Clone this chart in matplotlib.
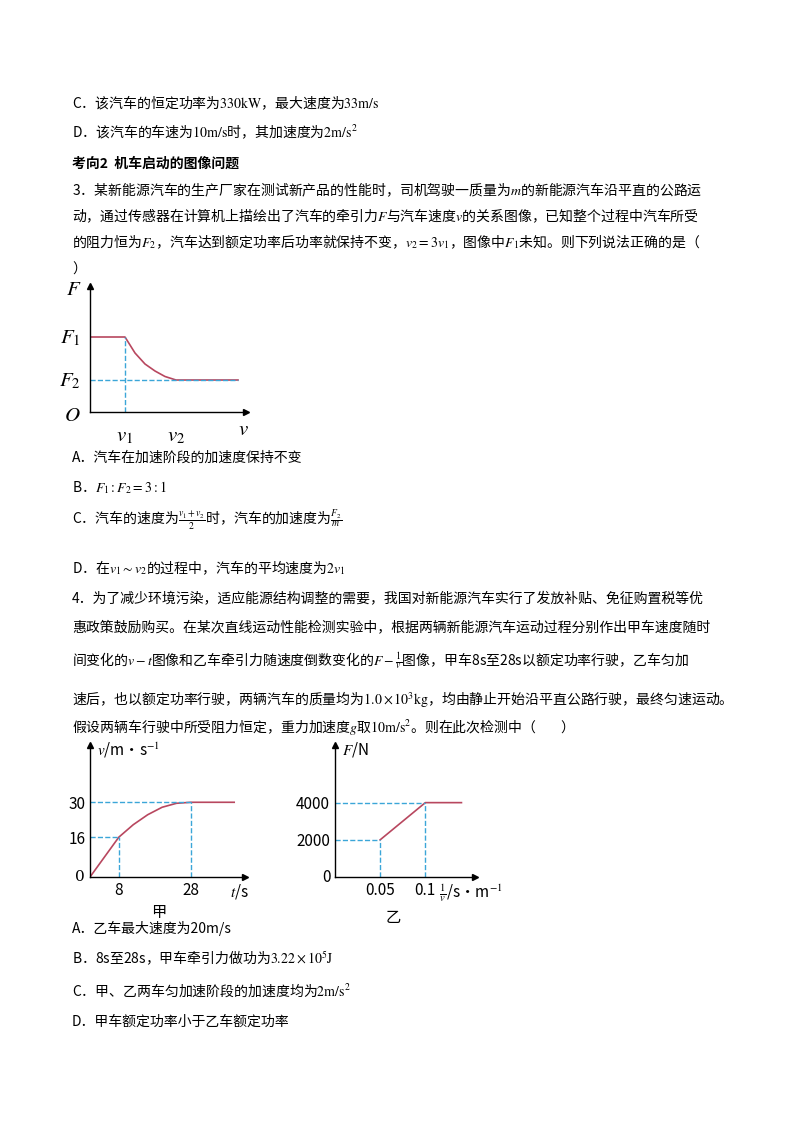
import matplotlib
matplotlib.use("Agg")
import matplotlib.pyplot as plt

plt.rcParams['font.family'] = ['Noto Sans CJK SC', 'DejaVu Sans']
plt.rcParams['mathtext.fontset'] = 'stix'

W, H = 800, 1132
LINE = '#b8475f'
DASH = '#3ba6d8'

# chart 1: F-v (arbitrary units)
f_v = [0, 3.5, 4.5, 5.5, 6.5, 7.5, 8.6, 14.8]
f_F = [7.5, 7.5, 5.9, 4.8, 4.1, 3.55, 3.2, 3.2]
# chart 2: v-t of car 甲
t_s = [0, 8, 12, 16, 20, 24, 28, 40]
v_ms = [0, 16, 21, 25, 28, 29.6, 30, 30]
t_ticks = [8, 28]
v_ticks = [16, 30]
# chart 3: F - 1/v of car 乙
inv_v = [0.05, 0.1, 0.14]
F_N = [2000, 4000, 4000]

lines = [
    (103, "C．该汽车的恒定功率为$330\\mathrm{kW}$，最大速度为$33\\mathrm{m/s}$", {}),
    (132, "D．该汽车的车速为$10\\mathrm{m/s}$时，其加速度为$2\\mathrm{m/s^2}$", {}),
    (164, "考向2  机车启动的图像问题", {'weight': 'bold'}),
    (190, "3．某新能源汽车的生产厂家在测试新产品的性能时，司机驾驶一质量为$m$的新能源汽车沿平直的公路运", {}),
    (216, "动，通过传感器在计算机上描绘出了汽车的牵引力$F$与汽车速度$v$的关系图像，已知整个过程中汽车所受", {}),
    (242, "的阻力恒为$F_2$，汽车达到额定功率后功率就保持不变，$v_2=3v_1$，图像中$F_1$未知。则下列说法正确的是（", {}),
    (270, "）", {}),
    (458, "A．汽车在加速阶段的加速度保持不变", {}),
    (488, "B．$F_1:F_2=3:1$", {}),
    (521, "C．汽车的速度为$\\frac{v_1+v_2}{2}$时，汽车的加速度为$\\frac{F_2}{m}$", {}),
    (568, "D．在$v_1\\sim v_2$的过程中，汽车的平均速度为$2v_1$", {}),
    (599, "4．为了减少环境污染，适应能源结构调整的需要，我国对新能源汽车实行了发放补贴、免征购置税等优", {}),
    (627, "惠政策鼓励购买。在某次直线运动性能检测实验中，根据两辆新能源汽车运动过程分别作出甲车速度随时", {}),
    (661, "间变化的$v-t$图像和乙车牵引力随速度倒数变化的$F-\\frac{1}{v}$图像，甲车8s至28s以额定功率行驶，乙车匀加", {}),
    (699, "速后，也以额定功率行驶，两辆汽车的质量均为$1.0\\times10^3\\mathrm{kg}$，均由静止开始沿平直公路行驶，最终匀速运动。", {}),
    (727, "假设两辆车行驶中所受阻力恒定，重力加速度$g$取$10\\mathrm{m/s^2}$。则在此次检测中（        ）", {}),
    (928, "A．乙车最大速度为20m/s", {}),
    (958, "B．8s至28s，甲车牵引力做功为$3.22\\times10^5\\mathrm{J}$", {}),
    (990, "C．甲、乙两车匀加速阶段的加速度均为$2\\mathrm{m/s^2}$", {}),
    (1022, "D．甲车额定功率小于乙车额定功率", {}),
]

fig = plt.figure(figsize=(W / 100, H / 100), dpi=100)
bg = fig.add_axes([0, 0, 1, 1])
bg.set_xlim(0, W)
bg.set_ylim(H, 0)
bg.axis('off')
for y, s, kw in lines:
    bg.text(72, y, s, fontsize=10, va='center', ha='left', **kw)


def pix_axes(x0, y0, x1, y1):
    # x0,y0 = origin (pixels), x1 = right end, y1 = top
    return fig.add_axes([x0 / W, 1 - y0 / H, (x1 - x0) / W, (y0 - y1) / H])


def style(ax):
    for s in ['top', 'right']:
        ax.spines[s].set_visible(False)
    for s in ['left', 'bottom']:
        ax.spines[s].set_linewidth(1.0)
    ax.plot(1, 0, '>k', ms=4, transform=ax.transAxes, clip_on=False)
    ax.plot(0, 1, '^k', ms=4, transform=ax.transAxes, clip_on=False)
    ax.patch.set_alpha(0)


# chart 1
ax1 = pix_axes(90, 412, 246, 286)
style(ax1)
ax1.set_xlim(0, 15.6)
ax1.set_ylim(0, 12.6)
ax1.plot(f_v, f_F, color=LINE, lw=1.2)
ax1.plot([f_v[1], f_v[1]], [0, f_F[1]], ls='--', color=DASH, lw=1)
ax1.plot([0, f_v[-1]], [f_F[-1], f_F[-1]], ls='--', color=DASH, lw=1)
ax1.set_xticks([])
ax1.set_yticks([])
ax1.text(-0.9, f_F[1], '$F_1$', fontsize=15, ha='right', va='center')
ax1.text(-0.9, f_F[-1], '$F_2$', fontsize=15, ha='right', va='center')
ax1.text(-0.9, -0.3, '$O$', fontsize=15, ha='right', va='center')
ax1.text(-0.9, 12.3, '$F$', fontsize=15, ha='right', va='center')
ax1.text(f_v[1], -1.2, '$v_1$', fontsize=15, ha='center', va='top')
ax1.text(f_v[6], -1.2, '$v_2$', fontsize=15, ha='center', va='top')
ax1.text(15.3, -0.6, '$v$', fontsize=15, ha='center', va='top')

# chart 2
ax2 = pix_axes(90, 877, 245, 745)
style(ax2)
ax2.set_xlim(0, 43)
ax2.set_ylim(0, 53)
ax2.plot(t_s, v_ms, color=LINE, lw=1.2)
for tt, vv in zip(t_ticks, v_ticks):
    ax2.plot([tt, tt], [0, vv], ls='--', color=DASH, lw=1)
    ax2.plot([0, tt], [vv, vv], ls='--', color=DASH, lw=1)
ax2.plot([30, 30], [0, 30], ls='', color=DASH)
ax2.set_xticks(t_ticks)
ax2.set_yticks(v_ticks)
ax2.tick_params(length=0, labelsize=11)
ax2.text(-1.5, 0, '0', fontsize=11, ha='right', va='center', family='serif')
ax2.text(2, 51, '$v$/m·s$^{-1}$', fontsize=11, ha='left', va='center')
ax2.text(44, -2, '$t$/s', fontsize=11, ha='right', va='top')
ax2.text(19, -11, '甲', fontsize=11, ha='center', va='top')

# chart 3
ax3 = pix_axes(335, 877, 475, 745)
style(ax3)
ax3.set_xlim(0, 0.155)
ax3.set_ylim(0, 7100)
ax3.plot(inv_v, F_N, color=LINE, lw=1.2)
for xx, yy in zip(inv_v[:2], F_N[:2]):
    ax3.plot([xx, xx], [0, yy], ls='--', color=DASH, lw=1)
    ax3.plot([0, xx], [yy, yy], ls='--', color=DASH, lw=1)
ax3.set_xticks(inv_v[:2])
ax3.set_xticklabels(['0.05', '0.1'])
ax3.set_yticks([2000, 4000])
ax3.tick_params(length=0, labelsize=11)
ax3.text(-0.005, 0, '0', fontsize=11, ha='right', va='center')
ax3.text(0.008, 6850, '$F$/N', fontsize=11, ha='left', va='center')
ax3.text(0.15, -300, '$\\frac{1}{v}$/s·m$^{-1}$', fontsize=11, ha='center', va='top')
ax3.text(0.065, -1700, '乙', fontsize=11, ha='center', va='top')

fig.savefig('out.png', dpi=100)
